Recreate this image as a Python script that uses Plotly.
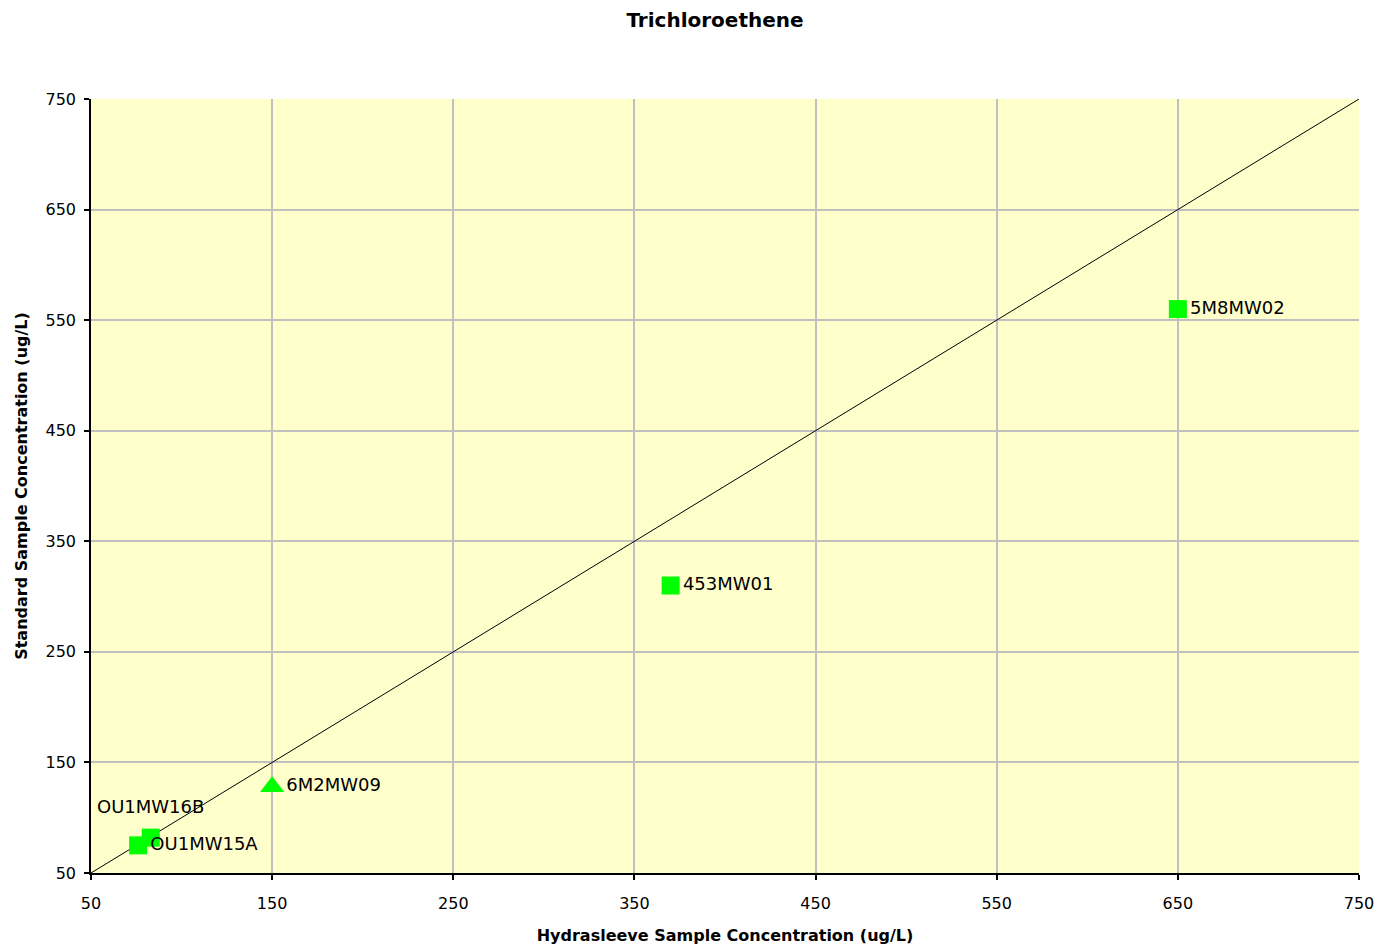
import plotly.graph_objects as go

# Sample pairs: Hydrasleeve vs. standard sampling (ug/L)
wells = ["5M8MW02", "453MW01", "6M2MW09", "OU1MW16B", "OU1MW15A"]
hydrasleeve = [650, 370, 150, 83, 76]
standard = [560, 310, 128, 82, 75]
symbols = ["square", "square", "triangle-up", "square", "square"]
marker_sizes = [18, 18, 21, 18, 18]
# OU1MW16B gets its label via an annotation above the cluster
point_labels = ["5M8MW02", "453MW01", "6M2MW09", "", "OU1MW15A"]

# 1:1 reference line
line_x = [50, 750]
line_y = [50, 750]

tick_vals = [50, 150, 250, 350, 450, 550, 650, 750]

font_family = "DejaVu Sans, Verdana, sans-serif"

fig = go.Figure()

fig.add_trace(go.Scatter(
    x=line_x, y=line_y, mode="lines",
    line=dict(color="black", width=1),
    hoverinfo="skip", showlegend=False,
))

fig.add_trace(go.Scatter(
    x=hydrasleeve, y=standard, mode="markers+text",
    text=point_labels, textposition="middle right",
    textfont=dict(family=font_family, size=18, color="black"),
    marker=dict(symbol=symbols, size=marker_sizes, color="#00FF00",
                opacity=1, line=dict(width=0)),
    hovertext=wells, hoverinfo="text+x+y",
    showlegend=False,
))

fig.add_annotation(
    x=hydrasleeve[3], y=standard[3], text=wells[3],
    showarrow=False, yshift=31,
    font=dict(family=font_family, size=18, color="black"),
)

axis_common = dict(
    range=[50, 750], tickvals=tick_vals,
    showgrid=True, gridcolor="#C0C0C0", gridwidth=1.5,
    showline=True, linecolor="black", linewidth=1.5,
    ticks="outside", ticklen=5, tickcolor="black", tickwidth=1.5,
    tickfont=dict(family=font_family, size=16, color="black"),
    zeroline=False, mirror=False, automargin=False,
)

fig.update_layout(
    width=1383, height=947,
    margin=dict(l=91, r=24, t=99, b=74),
    paper_bgcolor="white",
    plot_bgcolor="#FFFFCC",
    title=dict(
        text="<b>Trichloroethene</b>",
        x=715 / 1383, xanchor="center", xref="container",
        y=1 - 20 / 947, yanchor="middle", yref="container",
        font=dict(family=font_family, size=20, color="black"),
    ),
    xaxis=dict(
        **axis_common,
        ticklabelstandoff=10,
        title=dict(text="<b>Hydrasleeve Sample Concentration (ug/L)</b>",
                   font=dict(family=font_family, size=16, color="black"),
                   standoff=18),
    ),
    yaxis=dict(
        **axis_common,
        ticklabelstandoff=5,
        title=dict(text="<b>Standard Sample Concentration (ug/L)</b>",
                   font=dict(family=font_family, size=16, color="black"),
                   standoff=14),
    ),
)

fig.write_html("out.html")
